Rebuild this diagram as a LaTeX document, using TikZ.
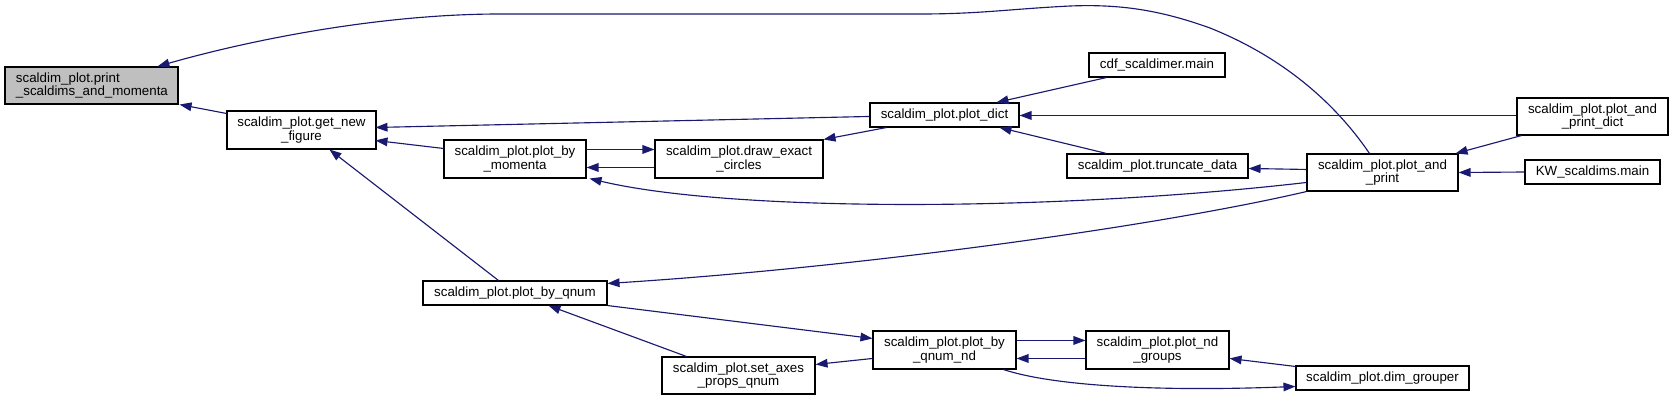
\documentclass[tikz,border=0pt]{standalone}
\usepackage{fontspec}
\setmainfont{Liberation Sans}
\usetikzlibrary{arrows.meta,calc}
\definecolor{edgeblue}{RGB}{25,25,112}
\definecolor{nodegray}{RGB}{191,191,191}
\newcommand\bx[7]{%
  \node[box,#6,minimum width={(#4-#2)*0.75pt},minimum height={(#5-#3)*0.75pt}] (#1) at ({(#2+#4)/2},{(#3+#5)/2}) {#7};}
\begin{document}
\begin{tikzpicture}[x=0.75pt,y=-0.75pt,
  box/.style={draw=black,line width=0.8pt,inner sep=0pt,align=center,
    font=\fontsize{10pt}{10pt}\selectfont},
  e/.style={draw=edgeblue,line width=0.85pt,-{Triangle[length=9pt,width=6.5pt]}}]
\useasboundingbox (0,0) rectangle (1674,400);
% nodes
\bx{P}{5}{67}{178}{104}{fill=nodegray,align=left,text width={151*0.75pt}}{scaldim\_plot.print\\\_scaldims\_and\_momenta}
\bx{G}{227}{111}{376}{149}{}{scaldim\_plot.get\_new\\\_figure}
\bx{M}{444}{140}{586}{178}{}{scaldim\_plot.plot\_by\\\_momenta}
\bx{D}{655}{140}{823}{178}{}{scaldim\_plot.draw\_exact\\\_circles}
\bx{PD}{870}{103}{1019}{127}{}{scaldim\_plot.plot\_dict}
\bx{C}{1089}{53}{1225}{77}{}{cdf\_scaldimer.main}
\bx{T}{1067}{154}{1248}{178}{}{scaldim\_plot.truncate\_data}
\bx{A}{1307}{154}{1458}{191}{}{scaldim\_plot.plot\_and\\\_print}
\bx{AD}{1517}{98}{1668}{135}{}{scaldim\_plot.plot\_and\\\_print\_dict}
\bx{K}{1525}{160}{1660}{184}{}{KW\_scaldims.main}
\bx{Q}{423}{281}{607}{305}{}{scaldim\_plot.plot\_by\_qnum}
\bx{S}{662}{357}{815}{394}{}{scaldim\_plot.set\_axes\\\_props\_qnum}
\bx{N}{873}{331}{1016}{369}{}{scaldim\_plot.plot\_by\\\_qnum\_nd}
\bx{NG}{1086}{331}{1229}{369}{}{scaldim\_plot.plot\_nd\\\_groups}
\bx{DG}{1296}{366}{1469}{390}{}{scaldim\_plot.dim\_grouper}
% edges
\draw[e] ($(A.north west)+(63,0)$) .. controls (1340,110) and (1290,60) .. (1210,28)
  .. controls (1160,10) and (1120,4) .. (1070,6)
  .. controls (1010,9) and (980,14) .. (920,14) -- (500,14)
  .. controls (380,14) and (250,40) .. ($(P.north west)+(153,0)$);
\draw[e] ($(G.north west)+(0,3)$) -- ($(P.south east)+(1,0)$);
\draw[e] ($(PD.north west)+(0,14)$) -- ($(G.north west)+(149,17)$);
\draw[e] ($(M.north west)+(0,9)$) -- ($(G.north west)+(149,30)$);
\draw[e] ($(Q.north west)+(76,0)$) -- ($(G.south west)+(103,0)$);
\draw[e] ($(M.north east)+(0,10)$) -- ($(D.north west)+(0,10)$);
\draw[e] ($(D.north west)+(0,28)$) -- ($(M.north east)+(0,28)$);
\draw[e] ($(PD.south west)+(17,0)$) -- (D.north east);
\draw[e] ($(A.north west)+(0,29)$) .. controls (1050,212) and (730,212) .. ($(M.south east)+(3,0)$);
\draw[e] ($(C.south west)+(18,0)$) -- ($(PD.north west)+(127,0)$);
\draw[e] ($(AD.north west)+(0,18)$) -- ($(PD.north east)+(0,13)$);
\draw[e] ($(T.north west)+(40,0)$) -- ($(PD.south west)+(130,0)$);
\draw[e] ($(A.north west)+(0,16)$) -- ($(T.north east)+(0,15)$);
\draw[e] ($(AD.south west)+(5,0)$) -- ($(A.north east)+(-3,0)$);
\draw[e] (K.west) -- (A.east);
\draw[e] (A.south west) .. controls (1150,228) and (850,268) .. ($(Q.north east)+(0,3)$);
\draw[e] (Q.south east) -- ($(N.north west)+(0,8)$);
\draw[e] ($(S.north west)+(25,0)$) -- ($(Q.south west)+(126,0)$);
\draw[e] ($(N.north west)+(0,28)$) -- ($(S.north east)+(0,8)$);
\draw[e] ($(N.north east)+(0,10)$) -- ($(NG.north west)+(0,10)$);
\draw[e] ($(NG.north west)+(0,28)$) -- ($(N.north east)+(0,28)$);
\draw[e] ($(DG.north west)+(0,1)$) -- ($(NG.north east)+(0,28)$);
\draw[e] ($(N.south east)+(-13,0)$) .. controls (1050,385) and (1150,392) .. ($(DG.north west)+(0,21)$);
\end{tikzpicture}
\end{document}
